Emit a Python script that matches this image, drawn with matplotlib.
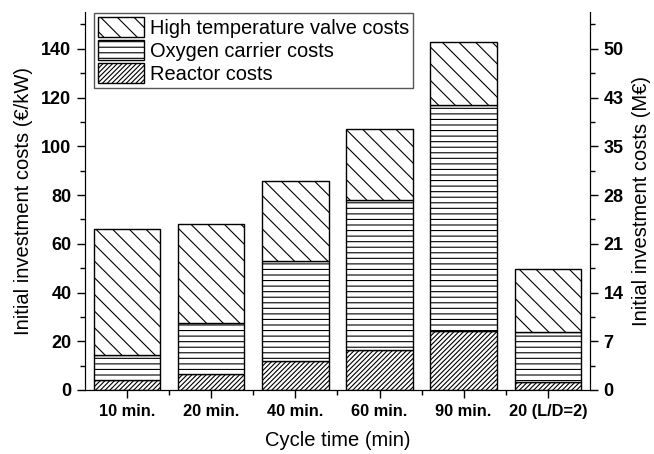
import matplotlib.pyplot as plt
import numpy as np

plt.rcParams["font.family"] = ["Liberation Sans", "DejaVu Sans"]
plt.rcParams["hatch.linewidth"] = 0.8

cycles = ["10 min.", "20 min.", "40 min.", "60 min.", "90 min.", "20 (L/D=2)"]
reactor = [4.1, 6.5, 11.9, 16.6, 24.4, 3.1]
oxygen = [10.2, 20.8, 40.9, 61.2, 92.5, 20.8]
valve = [51.7, 40.8, 32.8, 29.3, 26.1, 25.8]

left_ticks = [0, 20, 40, 60, 80, 100, 120, 140]
right_labels = ["0", "7", "14", "21", "28", "35", "43", "50"]

fig = plt.figure(figsize=(6.54, 4.54), dpi=100)
ax = fig.add_axes([0.130, 0.141, 0.772, 0.832])

x = np.arange(len(cycles))
w = 0.79
b1 = ax.bar(x, reactor, w, color="white", edgecolor="black", linewidth=1,
            hatch="///////", label="Reactor costs")
b2 = ax.bar(x, oxygen, w, bottom=reactor, color="white", edgecolor="black",
            linewidth=1, hatch="---", label="Oxygen carrier costs")
bottom2 = np.array(reactor) + np.array(oxygen)
b3 = ax.bar(x, valve, w, bottom=bottom2, color="white", edgecolor="black",
            linewidth=1, hatch="\\\\", label="High temperature valve costs")

ax.set_xlim(-0.5, 5.5)
ax.set_ylim(0, 155)
ax.set_xticks(x)
ax.set_xticklabels(cycles, fontsize=11.8, fontweight="bold")
ax.set_xticks(x[:-1] + 0.5, minor=True)
ax.set_yticks(left_ticks)
ax.set_yticklabels([str(t) for t in left_ticks], fontsize=13, fontweight="bold")
ax.set_yticks(np.arange(10, 155, 20), minor=True)
ax.tick_params(which="major", direction="out", length=5.8, width=1, pad=4)
ax.tick_params(which="minor", direction="out", length=3.6, width=1)
ax.spines["top"].set_visible(False)

ax.set_xlabel("Cycle time (min)", fontsize=14.5, labelpad=9)
ax.set_ylabel("Initial investment costs (€/kW)", fontsize=14.5, labelpad=6)

# right axis: same scale, labelled in M€
ax2 = ax.twinx()
ax2.set_ylim(ax.get_ylim())
ax2.set_yticks(left_ticks)
ax2.set_yticklabels(right_labels, fontsize=13, fontweight="bold")
ax2.set_yticks(np.arange(10, 155, 20), minor=True)
ax2.tick_params(which="major", direction="out", length=5.8, width=1, pad=4)
ax2.tick_params(which="minor", direction="out", length=3.6, width=1)
ax2.spines["top"].set_visible(False)
ax2.set_ylabel("Initial investment costs (M€)", fontsize=14.5, labelpad=6)

leg = ax.legend([b3, b2, b1],
                ["High temperature valve costs", "Oxygen carrier costs", "Reactor costs"],
                loc="upper left", bbox_to_anchor=(0.016, 1.0), fontsize=14.4,
                fancybox=False, framealpha=1, edgecolor="#555555",
                handlelength=2.3, handleheight=1.15, handletextpad=0.3,
                labelspacing=0.12, borderpad=0.2, borderaxespad=0.05)

fig.savefig("out.png", dpi=100)
